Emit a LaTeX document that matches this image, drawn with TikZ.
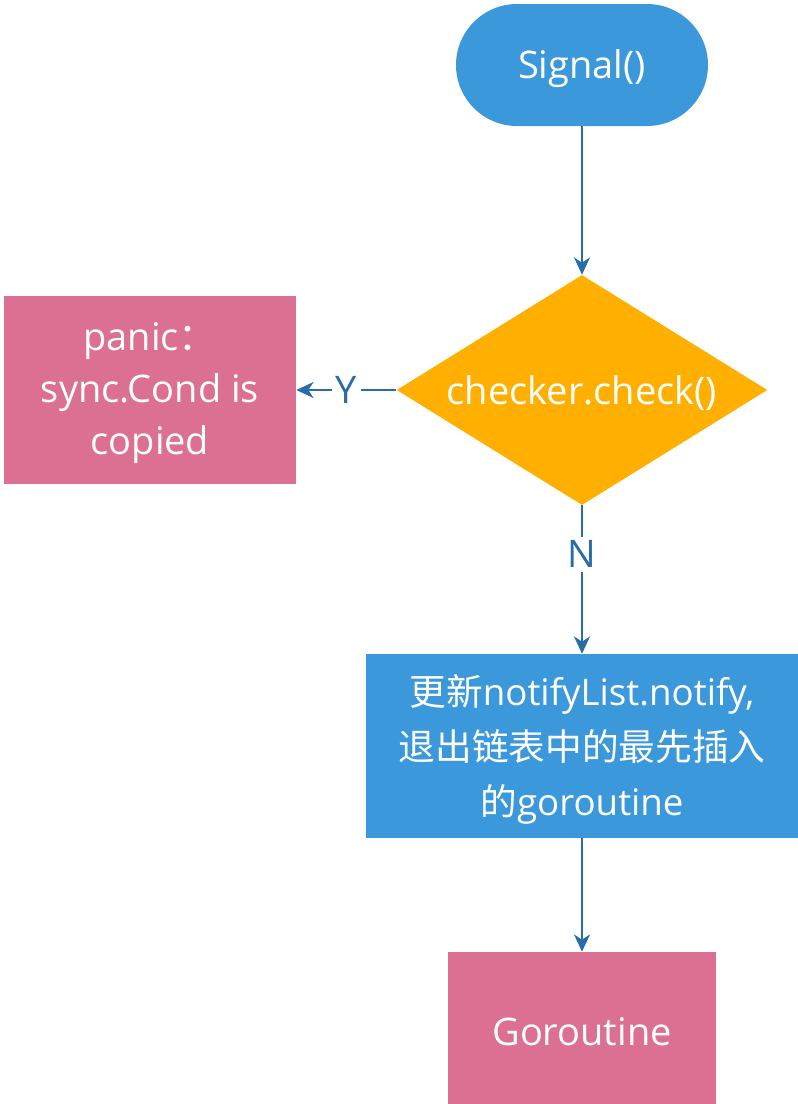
\documentclass[tikz,border=0pt]{standalone}
\usepackage{fontspec}
\setmainfont{Open Sans}
\newfontfamily\cjk{Noto Sans CJK SC}
\usetikzlibrary{arrows.meta,shapes.geometric}
\definecolor{cblue}{HTML}{3A98DB}
\definecolor{corange}{HTML}{FFAF00}
\definecolor{cpink}{HTML}{DC7092}
\definecolor{cline}{HTML}{2A6DA3}
\tikzset{
  every node/.style={font=\fontsize{28.5}{39}\selectfont, text=white, inner sep=0pt},
  txt/.style={yshift=-2.5pt, align=center},
  conn/.style={draw=cline, line width=1.6pt, -{Stealth[length=13pt,width=12pt,inset=4pt]}},
  lbl/.style={fill=white, text=cline, inner sep=3pt},
}
\begin{document}
\begin{tikzpicture}[x=0.75pt,y=-0.75pt]
\useasboundingbox (0,0) rectangle (798,1104);
\node[fill=cblue, rounded corners=45.75pt, minimum width=189pt, minimum height=91.5pt] (signal) at (582,65) {};
\node[txt] (signalt) at (signal.center) {Signal()};
\node[fill=corange, diamond, minimum width=278pt, minimum height=172.5pt, aspect=1.6] (check) at (582,390) {};
\node[txt] (checkt) at (check.center) {checker.check()};
\node[fill=cpink, minimum width=219pt, minimum height=141pt] (panic) at (150,390) {};
\node[txt] (panict) at (panic.center) {panic{\cjk ：}\\sync.Cond is\\copied};
\node[fill=cblue, minimum width=324pt, minimum height=138pt] (notify) at (582,746) {};
\node[txt, font=\fontsize{27.5}{41}\selectfont] (notifyt) at (notify.center) {{\cjk 更新}notifyList.notify,\\{\cjk 退出链表中的最先插入}\\{\cjk 的}goroutine};
\node[fill=cpink, minimum width=201pt, minimum height=114pt] (gor) at (582,1028) {};
\node[txt] (gort) at (gor.center) {Goroutine};
\draw[conn] (signal) -- (check.north);
\draw[conn] (check.west) -- node[lbl]{Y} (panic.east);
\draw[conn] (check.south) -- node[lbl, pos=0.33]{N} (notify.north);
\draw[conn] (notify) -- (gor);
\end{tikzpicture}
\end{document}
